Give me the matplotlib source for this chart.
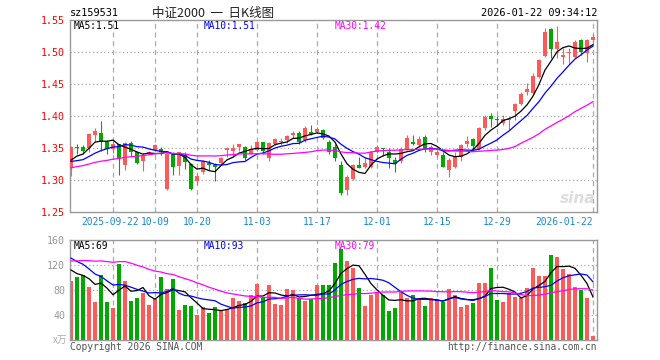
import numpy as np
import pandas as pd
import matplotlib
matplotlib.use("Agg")
import matplotlib.pyplot as plt
import matplotlib.transforms as mtransforms

# -------------------------------------------------------
# Data (daily K line, 88 trading days 2025-09-11 .. 2026-01-22)
# -------------------------------------------------------
open_ = [1.318, 1.351, 1.351, 1.350, 1.371, 1.373, 1.360, 1.348, 1.356, 1.323,
         1.358, 1.343, 1.329, 1.342, 1.347, 1.348, 1.286, 1.342, 1.322, 1.339,
         1.325, 1.298, 1.313, 1.327, 1.323, 1.327, 1.347, 1.346, 1.352, 1.351,
         1.341, 1.347, 1.359, 1.334, 1.356, 1.360, 1.362, 1.370, 1.374, 1.363,
         1.375, 1.375, 1.378, 1.359, 1.351, 1.323, 1.284, 1.301, 1.323, 1.321,
         1.321, 1.344, 1.349, 1.343, 1.331, 1.329, 1.349, 1.360, 1.355, 1.367,
         1.343, 1.339, 1.339, 1.316, 1.321, 1.336, 1.356, 1.364, 1.349, 1.381,
         1.400, 1.394, 1.389, 1.394, 1.408, 1.419, 1.438, 1.436, 1.461, 1.493,
         1.536, 1.504, 1.492, 1.499, 1.492, 1.518, 1.499, 1.518]
high = [1.353, 1.357, 1.355, 1.373, 1.382, 1.392, 1.362, 1.362, 1.357, 1.359,
        1.361, 1.344, 1.342, 1.346, 1.356, 1.351, 1.342, 1.344, 1.344, 1.343,
        1.327, 1.311, 1.331, 1.332, 1.326, 1.336, 1.352, 1.356, 1.357, 1.353,
        1.355, 1.361, 1.360, 1.359, 1.366, 1.365, 1.370, 1.377, 1.376, 1.385,
        1.386, 1.383, 1.380, 1.362, 1.357, 1.329, 1.308, 1.325, 1.336, 1.336,
        1.346, 1.355, 1.350, 1.350, 1.336, 1.352, 1.370, 1.370, 1.368, 1.370,
        1.355, 1.347, 1.343, 1.334, 1.344, 1.356, 1.369, 1.365, 1.383, 1.401,
        1.405, 1.400, 1.402, 1.399, 1.420, 1.438, 1.451, 1.467, 1.489, 1.537,
        1.537, 1.540, 1.506, 1.507, 1.519, 1.521, 1.520, 1.528]
low = [1.306, 1.341, 1.340, 1.343, 1.360, 1.346, 1.341, 1.342, 1.308, 1.316,
       1.337, 1.325, 1.314, 1.340, 1.345, 1.339, 1.285, 1.308, 1.308, 1.317,
       1.284, 1.292, 1.310, 1.316, 1.299, 1.324, 1.336, 1.337, 1.346, 1.331,
       1.340, 1.345, 1.340, 1.330, 1.355, 1.354, 1.358, 1.366, 1.357, 1.360,
       1.370, 1.373, 1.364, 1.340, 1.329, 1.277, 1.277, 1.300, 1.318, 1.319,
       1.318, 1.342, 1.337, 1.318, 1.313, 1.326, 1.347, 1.355, 1.352, 1.344,
       1.339, 1.336, 1.320, 1.305, 1.318, 1.329, 1.352, 1.347, 1.347, 1.378,
       1.383, 1.384, 1.386, 1.378, 1.394, 1.417, 1.433, 1.435, 1.459, 1.492,
       1.490, 1.490, 1.481, 1.483, 1.490, 1.495, 1.485, 1.515]
close = [1.352, 1.350, 1.346, 1.372, 1.376, 1.360, 1.348, 1.356, 1.335, 1.358,
         1.343, 1.327, 1.339, 1.344, 1.354, 1.343, 1.341, 1.321, 1.344, 1.328,
         1.286, 1.306, 1.329, 1.324, 1.320, 1.334, 1.350, 1.350, 1.356, 1.334,
         1.349, 1.359, 1.346, 1.358, 1.364, 1.361, 1.368, 1.374, 1.360, 1.382,
         1.372, 1.380, 1.366, 1.343, 1.335, 1.279, 1.304, 1.323, 1.319, 1.326,
         1.344, 1.352, 1.348, 1.334, 1.325, 1.349, 1.365, 1.356, 1.364, 1.349,
         1.351, 1.343, 1.321, 1.331, 1.336, 1.355, 1.361, 1.353, 1.381, 1.399,
         1.396, 1.393, 1.395, 1.396, 1.419, 1.435, 1.442, 1.463, 1.487, 1.532,
         1.504, 1.515, 1.496, 1.500, 1.516, 1.500, 1.518, 1.524]
# volume, in 10k lots
volume = [94, 101, 104, 85, 61, 104, 61, 51, 122, 94,
          62, 67, 75, 56, 66, 101, 82, 98, 48, 56,
          54, 40, 53, 43, 53, 46, 49, 67, 62, 60,
          72, 90, 68, 88, 58, 56, 82, 80, 68, 62,
          66, 88, 88, 88, 123, 146, 126, 116, 83, 54,
          72, 76, 72, 46, 51, 77, 67, 72, 64, 54,
          68, 64, 61, 82, 72, 53, 56, 59, 91, 91,
          115, 64, 61, 75, 69, 67, 83, 115, 102, 102,
          136, 133, 114, 106, 85, 80, 67, 6]

# closes / volumes before the visible window (needed for the moving averages)
pre_close = [1.292, 1.298, 1.301, 1.296, 1.305, 1.310, 1.302, 1.299, 1.306, 1.312,
             1.308, 1.303, 1.309, 1.311, 1.308, 1.332, 1.345, 1.352, 1.348, 1.343,
             1.338, 1.330, 1.322, 1.325, 1.320, 1.318, 1.330, 1.327, 1.328]
pre_volume = [95, 88, 92, 85, 90, 96, 84, 91, 89, 140,
              165, 158, 172, 150, 145, 160, 138, 155, 148, 142,
              155, 148, 160, 142, 145, 130, 118, 112, 106]

tick_idx = [7, 14, 21, 31, 41, 51, 61, 71, 87]
tick_labels = ["2025-09-22", "10-09", "10-20", "11-03", "11-17",
               "12-01", "12-15", "12-29", "2026-01-22"]

RED = "#ff5a5a"
GREEN = "#00a800"
GRID = "#aaaaaa"
MONO = "DejaVu Sans Mono"
FS = 6.9

W, H = 660, 360


def fx(x):
    return x / W


def fy(y):
    return 1 - y / H


def moving_avg(pre, vals, n):
    s = pd.Series(list(pre) + list(vals)).rolling(n, min_periods=1).mean()
    return s.values[len(pre):]


n = len(close)
idx = np.arange(n)
o = np.array(open_)
c = np.array(close)
up = c >= o
colors = np.where(up, RED, GREEN)

fig = plt.figure(figsize=(6.6, 3.6), dpi=100)
ax = fig.add_axes([fx(70), fy(212), fx(527), 192 / H])
axv = fig.add_axes([fx(70), fy(340), fx(527), 100 / H])

for a in (ax, axv):
    a.set_xlim(-0.17, 87.67)
    for sp in a.spines.values():
        sp.set_color("#999999")
        sp.set_linewidth(1)
    for t in tick_idx:
        a.axvline(t, color=GRID, lw=0.9, ls=(0, (4, 3)), zorder=0)
    a.tick_params(length=0)

# ---- price panel
ax.set_ylim(1.25, 1.55)
for lev in [1.30, 1.35, 1.40, 1.45, 1.50]:
    ax.axhline(lev, color=GRID, lw=0.9, ls=(0, (1, 2)), zorder=0)
ax.vlines(idx, low, high, color=colors, lw=0.8, zorder=2)
ax.bar(idx, np.maximum(np.abs(c - o), 0.0016), bottom=np.minimum(o, c),
       width=0.8, color=colors, lw=0, zorder=3)
ax.plot(idx, moving_avg(pre_close, close, 5), color="black", lw=0.9, zorder=4)
ax.plot(idx, moving_avg(pre_close, close, 10), color="#0000ff", lw=0.9, zorder=4)
ax.plot(idx, moving_avg(pre_close, close, 30), color="#ff00ff", lw=0.9, zorder=4)

ax.set_yticks([1.25, 1.30, 1.35, 1.40, 1.45, 1.50, 1.55])
ax.set_yticklabels(["%.2f" % v for v in ax.get_yticks()],
                   color="#ff0000", fontsize=7.2, family=MONO)
ax.tick_params(axis="y", pad=3.5)
ax.set_xticks([])

# date labels under the price panel (first one nudged left, last one
# right-aligned to stay inside the frame, as on the source chart)
xtrans = mtransforms.blended_transform_factory(ax.transData, ax.transAxes)
for k, (t, lab) in enumerate(zip(tick_idx, tick_labels)):
    ha = "center"
    xpos = t
    if k == 0:
        xpos = t - 0.5
    if k == len(tick_idx) - 1:
        ha = "right"
    ax.text(xpos, -0.052, lab, transform=xtrans, ha=ha, va="center",
            color="#1a88d0", fontsize=FS, family=MONO)

# ---- volume panel
axv.set_ylim(0, 160)
for lev in [40, 80, 120]:
    axv.axhline(lev, color=GRID, lw=0.9, ls=(0, (1, 2)), zorder=0)
axv.bar(idx, volume, width=0.8, color=colors, lw=0, zorder=2)
axv.plot(idx, moving_avg(pre_volume, volume, 5), color="black", lw=0.9, zorder=4)
axv.plot(idx, moving_avg(pre_volume, volume, 10), color="#0000ff", lw=0.9, zorder=4)
axv.plot(idx, moving_avg(pre_volume, volume, 30), color="#ff00ff", lw=0.9, zorder=4)
axv.set_yticks([40, 80, 120, 160])
axv.set_yticklabels(["40", "80", "120", "160"], color="#999999",
                    fontsize=7.2, family=MONO)
axv.tick_params(axis="y", pad=3.5)
axv.set_xticks([])

# ---- texts
fig.text(fx(70), fy(13), "sz159531", fontsize=7.4, family=MONO, va="center")
fig.text(fx(213), fy(13), "中证2000  一  日K线图", fontsize=9, ha="center",
         va="center", color="#222222", family=["Noto Sans CJK SC", "DejaVu Sans"])
fig.text(fx(597), fy(13), "2026-01-22 09:34:12", fontsize=7.4, family=MONO,
         ha="right", va="center")

ma_txt = [("MA5:1.51", 74, "black"), ("MA10:1.51", 204, "#0000ff"),
          ("MA30:1.42", 335, "#ff00ff")]
for s, x, col in ma_txt:
    fig.text(fx(x), fy(26), s, color=col, fontsize=FS, family=MONO, va="center")
vma_txt = [("MA5:69", 74, "black"), ("MA10:93", 204, "#0000ff"),
           ("MA30:79", 335, "#ff00ff")]
for s, x, col in vma_txt:
    fig.text(fx(x), fy(246), s, color=col, fontsize=FS, family=MONO, va="center")

fig.text(fx(67), fy(340), "x万", fontsize=7, color="#aaaaaa", ha="right",
         va="center", family=["Noto Sans CJK SC", "DejaVu Sans"])
fig.text(fx(70), fy(347), "Copyright 2026 SINA.COM", fontsize=FS,
         family=MONO, color="#555555", va="center")
fig.text(fx(597), fy(347), "http://finance.sina.com.cn", fontsize=FS,
         family=MONO, color="#555555", va="center", ha="right")
fig.text(fx(578), fy(198), "sina", fontsize=11, style="italic", weight="bold",
         color="#dddddd", ha="center", va="center")

fig.savefig("out.png", dpi=100)
